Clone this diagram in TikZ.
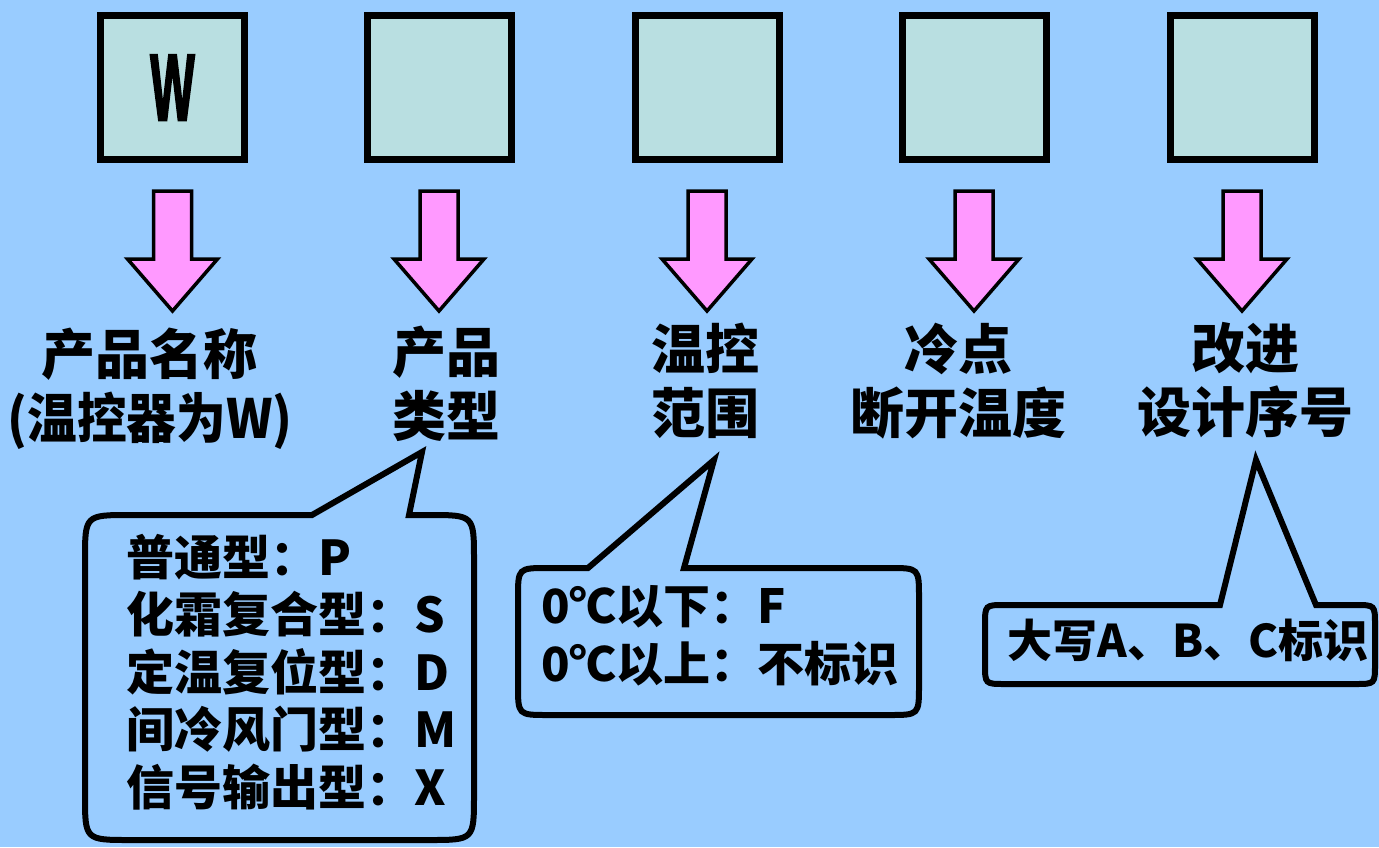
\documentclass[tikz,border=0pt]{standalone}
\usepackage{fontspec}
\newfontfamily\cjk{Noto Sans CJK SC}
\newfontfamily\wfont{Liberation Sans Bold}[FakeBold=3]
\definecolor{bg}{RGB}{153,204,255}
\definecolor{boxfill}{RGB}{185,223,225}
\definecolor{pinkfill}{RGB}{255,153,255}
\tikzset{
  codebox/.style={draw=black, line width=7pt, fill=boxfill, minimum width=144pt, minimum height=144pt, inner sep=0pt},
  arrowstyle/.style={draw=black, line width=3.5pt, fill=pinkfill, line join=miter},
  downarrow/.pic={\path[arrowstyle] (-19,0) -- (19,0) -- (19,68) -- (45,68) -- (0,120) -- (-45,68) -- (-19,68) -- cycle;},
  label/.style={align=center, inner sep=0pt, font=\cjk\bfseries\fontsize{54}{64}\selectfont},
  callout/.style={draw=black, line width=6pt, fill=bg, line join=miter},
  callouttext/.style={align=left, inner sep=0pt, font=\cjk\bfseries\fontsize{48}{57.5}\selectfont}
}
\begin{document}
\begin{tikzpicture}[x=1pt, y=-1pt]
\fill[bg] (0,0) rectangle (1379,847);
\useasboundingbox (0,0) rectangle (1379,847);

% code boxes
\node[codebox] (b1) at (172.5,87.5) {\scalebox{0.5}[1]{\wfont\fontsize{94}{94}\selectfont W}};
\node[codebox] (b2) at (439,87.5) {};
\node[codebox] (b3) at (707,87.5) {};
\node[codebox] (b4) at (974,87.5) {};
\node[codebox] (b5) at (1242,87.5) {};

% block arrows
\pic at ([yshift=-28pt]b1.south) {downarrow};
\pic at ([yshift=-28pt]b2.south) {downarrow};
\pic at ([yshift=-28pt]b3.south) {downarrow};
\pic at ([yshift=-28pt]b4.south) {downarrow};
\pic at ([yshift=-28pt]b5.south) {downarrow};

% labels
\node[label] (l1) at (150,389) {产品名称\\\scalebox{0.92}[1]{(温控器为W)}};
\node[label] (l2) at (446,384) {产品\\类型};
\node[label] (l3) at (705,381) {温控\\范围};
\node[label] (l4) at (958,381) {冷点\\断开温度};
\node[label] (l5) at (1245,380) {改进\\设计序号};

% callout 1
\coordinate (t1) at (422,452);
\path[callout] (312,515) -- (t1) -- (409,515) -- (429,515) .. controls (474,515) .. (474,560)
  -- (474,795) .. controls (474,840) .. (429,840) -- (130,840) .. controls (85,840) .. (85,795)
  -- (85,560) .. controls (85,515) .. (130,515) -- cycle;
\node[callouttext, anchor=west] (c1) at (126,672) {普通型：P\\化霜复合型：S\\定温复位型：D\\间冷风门型：M\\信号输出型：X};

% callout 2
\coordinate (t2) at (714,460);
\path[callout] (588,568) -- (t2) -- (684,568) -- (889,568) .. controls (919,568) .. (919,598)
  -- (919,685) .. controls (919,715) .. (889,715) -- (548,715) .. controls (518,715) .. (518,685)
  -- (518,598) .. controls (518,568) .. (548,568) -- cycle;
\node[callouttext, anchor=west, font=\cjk\bfseries\fontsize{47}{58}\selectfont] (c2) at (541,636) {0℃以下：F\\0℃以上：不标识};

% callout 3
\coordinate (t3) at (1256,460);
\path[callout] (1220,605) -- (t3) -- (1316,605) -- (1355,605) .. controls (1375,605) .. (1375,625)
  -- (1375,664) .. controls (1375,684) .. (1355,684) -- (1005,684) .. controls (985,684) .. (985,664)
  -- (985,625) .. controls (985,605) .. (1005,605) -- cycle;
\node[callouttext, font=\cjk\bfseries\fontsize{45}{54}\selectfont] (c3) at (1188,640) {大写A、B、C标识};
\end{tikzpicture}
\end{document}
